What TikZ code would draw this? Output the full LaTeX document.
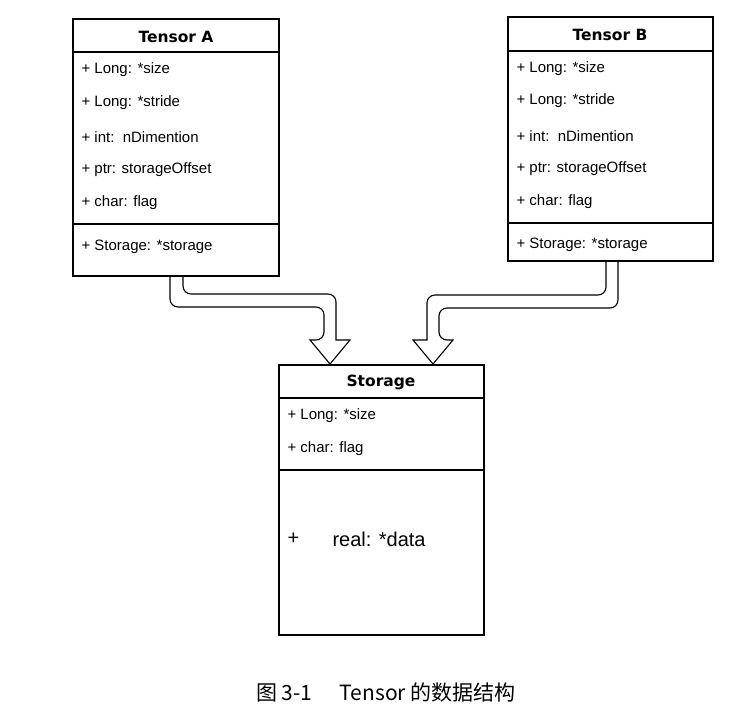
\documentclass[tikz,border=0pt]{standalone}
\usepackage{fontspec}
\setmainfont{Liberation Sans}
\newfontfamily\ttlfont{DejaVu Sans}
\newfontfamily\cjk{Noto Sans CJK SC}
\begin{document}
\begin{tikzpicture}[x=1pt,y=-1pt,line width=1.1pt,
  attr/.style={anchor=west,font=\fontsize{15}{17}\selectfont,inner sep=0pt},
  ttl/.style={font=\ttlfont\bfseries\fontsize{15.5}{17}\selectfont,inner sep=0pt}]
\useasboundingbox (0,0) rectangle (740,713);
% Tensor A
\draw (73,19) rectangle (279,276);
\draw (73,52) -- (279,52) (73,224) -- (279,224);
\node[ttl] (ta) at (176,37) {Tensor A};
\foreach \t/\y [count=\i] in {{+ Long: *size}/70,{+ Long: *stride}/103,{+ int:\ \ nDimention}/137,{+ ptr: storageOffset}/170,{+ char: flag}/203,{+ Storage: *storage}/247}
  \node[attr] (a\i) at (81,\y) {\t};
% Tensor B
\draw (508,17) rectangle (713,261);
\draw (508,51) -- (713,51) (508,223) -- (713,223);
\node[ttl] (tb) at (610,35) {Tensor B};
\foreach \t/\y [count=\i] in {{+ Long: *size}/69,{+ Long: *stride}/101,{+ int:\ \ nDimention}/136,{+ ptr: storageOffset}/169,{+ char: flag}/202,{+ Storage: *storage}/245}
  \node[attr] (b\i) at (516,\y) {\t};
% Storage
\draw (279,365) rectangle (484,635);
\draw (279,398) -- (484,398) (279,470) -- (484,470);
\node[ttl] (ts) at (381,382) {Storage};
\node[attr] (s1) at (287,416) {+ Long: *size};
\node[attr] (s2) at (287,449) {+ char: flag};
\node[attr,font=\fontsize{20}{22}\selectfont] (s3) at (287,539) {+};
\node[attr,font=\fontsize{20}{22}\selectfont] (s4) at (332,539) {real: *data};
% arrows
\draw[line join=miter] (170,276) [rounded corners=8pt] -- (170,307) -- (324,307) -- (324,340) [sharp corners] -- (310,340) -- (330,364)
  -- (350,340) -- (336,340) [rounded corners=8pt] -- (336,294) -- (183,294) [sharp corners] -- (183,276);
\draw[line join=miter] (618,261) [rounded corners=8pt] -- (618,308) -- (439,308) -- (439,340) [sharp corners] -- (453,340) -- (433,364)
  -- (413,340) -- (427,340) [rounded corners=8pt] -- (427,295) -- (606,295) [sharp corners] -- (606,261);
\node[font=\cjk\fontsize{21}{23}\selectfont,inner sep=0pt] (cap) at (386,693) {图 3-1\hspace{1.3em}Tensor 的数据结构};
\end{tikzpicture}
\end{document}
